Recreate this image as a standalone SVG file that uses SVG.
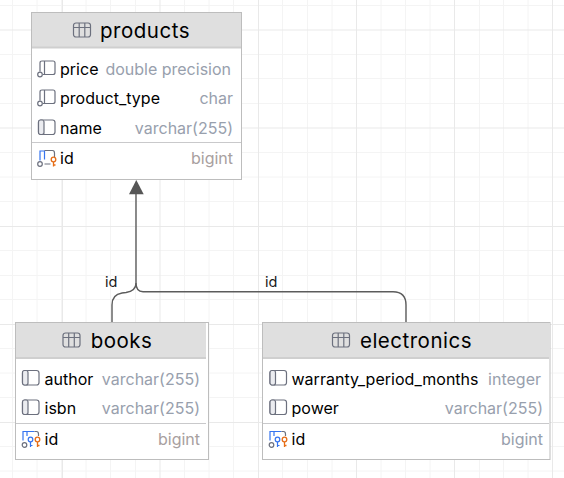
<svg xmlns="http://www.w3.org/2000/svg" width="564" height="478" viewBox="0 0 564 478">
<style>
text{font-family:Inter,"Noto Sans","Liberation Sans",sans-serif}
.minor{stroke:#f4f4f4;stroke-width:1;fill:none}
.major{stroke:#e9e9e9;stroke-width:1;fill:none}
.box{fill:#fff;stroke:#bdbdbd;stroke-width:1}
.head{fill:#dfdfdf}
.sep{stroke:#c9c9cb;stroke-width:1}
.headline{stroke:#cfcfcf;stroke-width:2}
.title{font-size:20.500px;fill:#000;letter-spacing:.5px;text-anchor:middle}
.name{font-size:16px;fill:#000;letter-spacing:.02px}
.type{font-size:16px;fill:#98a0ad;text-anchor:end}
.typew{font-size:16px;fill:#a8a0a0;text-anchor:end}
.label{font-size:14.500px;fill:#1a1a1a}
.ico{fill:none;stroke:#6c707e;stroke-width:1.2}
.icol{fill:#ebecf0;stroke:#6c707e;stroke-width:1.2}
.blue{fill:none;stroke:#3574f0;stroke-width:1.2}
.orange{fill:none;stroke:#e66d17;stroke-width:1.3}
.conn{fill:none;stroke:#5c5c5c;stroke-width:1.4}
</style>
<defs>
<g id="table-icon"><rect class="ico" x="0" y="0" width="17" height="14" rx="2.500"/><path class="ico" d="M0 4.500H17M5.700 0V14M11.300 0V14"/></g>
<g id="col-icon"><rect class="ico" x="0" y="0" width="16.500" height="14.500" rx="2.500"/><rect class="icol" x="0" y="0" width="5.500" height="14.500" rx="2"/></g>
<g id="fk-icon"><path class="ico" d="M2.500 11V2.500Q2.500 .5 4.500 .5H15.500Q17.500 .5 17.500 2.500V12Q17.500 14 15.500 14H5.500M7 .5V14"/><circle class="ico" cx="2.500" cy="14" r="2.300"/></g>
<g id="pk-icon"><path class="blue" d="M2.500 10.500V1H7V9.500"/><path class="ico" d="M7 .5H15Q17 .5 17 3V7M7 14H13"/><circle class="ico" cx="2.500" cy="14" r="2.300"/><circle class="orange" cx="16" cy="9.500" r="2.300"/><path class="orange" d="M16 12V16.500M16 15H18"/></g>
<g id="pkfk-icon"><path class="blue" d="M1.500 9.500V.5H5.500V5M5.500 .5H13"/><path class="ico" d="M13 .5H15Q17 .5 17 3V5"/><circle class="ico" cx="3" cy="14" r="2.300"/><circle class="blue" cx="9" cy="8.500" r="2.300"/><path class="blue" d="M9 11V16M9 14.500H11"/><circle class="orange" cx="16" cy="8.500" r="2.300"/><path class="orange" d="M16 11V16M16 14.500H18"/></g>
</defs>
<rect width="564" height="478" fill="#fff"/>
<g id="grid">
<path class="minor" d="M12.500 0V478M37 0V478M61.500 0V478M86 0V478M110.500 0V478M135.500 0V478M184.500 0V478M209 0V478M233.500 0V478M282.500 0V478M307.500 0V478M332 0V478M381 0V478M405.500 0V478M430 0V478M479.500 0V478M503.500 0V478M528 0V478"/>
<path class="minor" d="M0 5.500H564M0 54.500H564M0 78.500H564M0 103.500H564M0 152.500H564M0 177H564M0 201.500H564M0 250.500H564M0 275.500H564M0 299.500H564M0 348.500H564M0 373H564M0 397.500H564M0 446.500H564M0 471H564"/>
<path class="major" d="M62.500 0V478M160 0V478M258.500 0V478M356.500 0V478M454.500 0V478M552.500 0V478M0 30H564M0 128H564M0 226.500H564M0 324.500H564M0 422.500H564"/>
</g>
<g id="connectors">
<path class="conn" d="M136 192V283Q136 291.500 143 291.800H393Q406 292 406 305V322"/>
<path class="conn" d="M136 283Q136 291 126 292.500L122 293Q112 294.500 112 305V322"/>
<polygon points="136.300,180 129,194.300 143.700,194.300" fill="#565656"/>
<text class="label" x="105" y="287">id</text>
<text class="label" x="265" y="287">id</text>
</g>
<g id="products">
<rect class="box" x="31.500" y="12.500" width="210" height="167"/>
<rect class="head" x="32" y="13" width="209" height="34"/>
<path class="headline" d="M32 47.500H241"/>
<use href="#table-icon" x="73.500" y="23"/>
<text class="title" x="145" y="37.500">products</text>
<use href="#fk-icon" x="37.500" y="60.500"/>
<text class="name" x="60" y="75">price</text>
<text class="type" x="231" y="75">double precision</text>
<use href="#fk-icon" x="37.500" y="89.500"/>
<text class="name" x="60" y="104">product_type</text>
<text class="type" x="233" y="104">char</text>
<use href="#col-icon" x="38.500" y="120"/>
<text class="name" x="60" y="134">name</text>
<text class="type" x="233" y="134">varchar(255)</text>
<path class="sep" d="M32 142.500H241"/>
<use href="#pk-icon" x="37.500" y="150"/>
<text class="name" x="60" y="164">id</text>
<text class="typew" x="233" y="164">bigint</text>
</g>
<g id="books">
<rect class="box" x="15.500" y="322.500" width="193" height="137"/>
<rect class="head" x="16" y="323" width="190" height="34"/>
<path class="headline" d="M16 358H206"/>
<use href="#table-icon" x="63" y="333"/>
<text class="title" x="121.500" y="347.500">books</text>
<use href="#col-icon" x="22.500" y="370.500"/>
<text class="name" x="44.500" y="385">author</text>
<text class="type" x="200" y="385">varchar(255)</text>
<use href="#col-icon" x="22.500" y="400"/>
<text class="name" x="44.500" y="414">isbn</text>
<text class="type" x="200" y="414">varchar(255)</text>
<path class="sep" d="M16 423.500H206"/>
<use href="#pkfk-icon" x="21.500" y="431"/>
<text class="name" x="44.500" y="445">id</text>
<text class="typew" x="200" y="445">bigint</text>
</g>
<g id="electronics">
<rect class="box" x="262.500" y="322.500" width="287.500" height="137"/>
<rect class="head" x="263" y="323" width="286.500" height="34"/>
<path class="headline" d="M263 358H549"/>
<use href="#table-icon" x="332.500" y="333"/>
<text class="title" x="416" y="347.500">electronics</text>
<use href="#col-icon" x="270" y="370.500"/>
<text class="name" x="291.500" y="385">warranty_period_months</text>
<text class="type" x="541" y="385">integer</text>
<use href="#col-icon" x="270" y="400"/>
<text class="name" x="291.500" y="414">power</text>
<text class="type" x="543" y="414">varchar(255)</text>
<path class="sep" d="M263 423.500H549"/>
<use href="#pkfk-icon" x="268.500" y="431"/>
<text class="name" x="291.500" y="445">id</text>
<text class="type" x="543" y="445">bigint</text>
</g>
</svg>
